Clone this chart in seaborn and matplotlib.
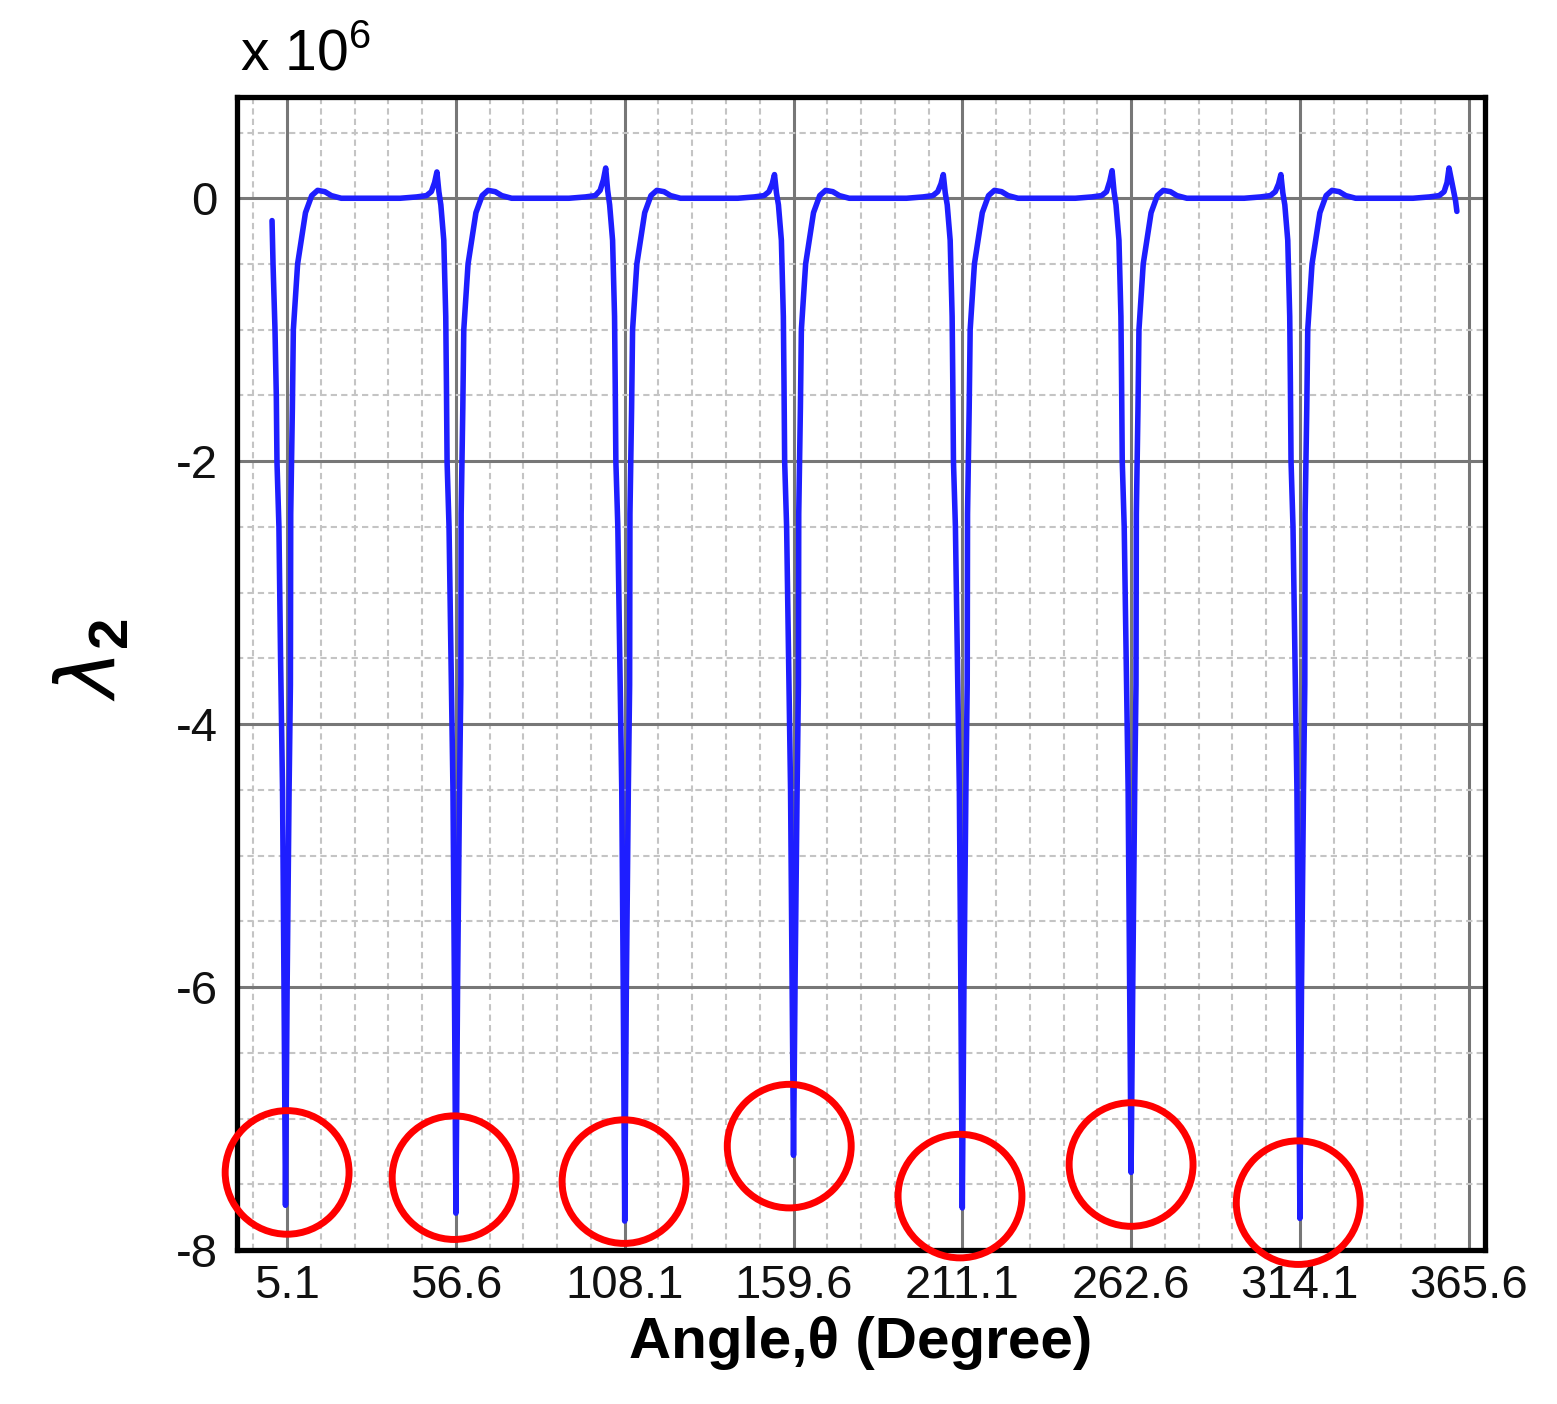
import pandas as pd
import seaborn as sns
import matplotlib.pyplot as plt
from matplotlib.patches import Ellipse
from matplotlib.ticker import FixedLocator, MultipleLocator

# lambda_2 (x 10^6) against angle
angle = [
    0.5, 0.8, 1.4, 1.8, 2.0, 2.6, 3.1, 3.7, 4.15, 4.6,
    5.1, 5.7, 6.1, 6.2, 6.7, 7.0, 8.3, 10.7, 12.6, 14.4, 16.6, 18.6, 21.6,
    39.6, 44.6, 47.6, 49.1, 50.1, 50.8, 51.4, 52.0, 52.9, 53.5, 53.7, 53.9, 54.5, 55.1, 55.7, 56.15, 56.6,
    57.1, 57.7, 58.1, 58.2, 58.7, 59.0, 60.3, 62.7, 64.6, 66.4, 68.6, 70.6, 73.6,
    91.1, 96.1, 99.1, 100.6, 101.6, 102.3, 102.9, 103.5, 104.4, 105.0, 105.2, 105.4, 106.0, 106.6, 107.2, 107.65, 108.1,
    108.6, 109.2, 109.6, 109.7, 110.2, 110.5, 111.8, 114.2, 116.1, 117.9, 120.1, 122.1, 125.1,
    142.6, 147.6, 150.6, 152.1, 153.1, 153.8, 154.4, 155.0, 155.9, 156.5, 156.7, 156.9, 157.5, 158.1, 158.7, 159.15, 159.6,
    160.1, 160.7, 161.1, 161.2, 161.7, 162.0, 163.3, 165.7, 167.6, 169.4, 171.6, 173.6, 176.6,
    194.1, 199.1, 202.1, 203.6, 204.6, 205.3, 205.9, 206.5, 207.4, 208.0, 208.2, 208.4, 209.0, 209.6, 210.2, 210.65, 211.1,
    211.6, 212.2, 212.6, 212.7, 213.2, 213.5, 214.8, 217.2, 219.1, 220.9, 223.1, 225.1, 228.1,
    245.6, 250.6, 253.6, 255.1, 256.1, 256.8, 257.4, 258.0, 258.9, 259.5, 259.7, 259.9, 260.5, 261.1, 261.7, 262.15, 262.6,
    263.1, 263.7, 264.1, 264.2, 264.7, 265.0, 266.3, 268.7, 270.6, 272.4, 274.6, 276.6, 279.6,
    297.1, 302.1, 305.1, 306.6, 307.6, 308.3, 308.9, 309.5, 310.4, 311.0, 311.2, 311.4, 312.0, 312.6, 313.2, 313.65, 314.1,
    314.6, 315.2, 315.6, 315.7, 316.2, 316.5, 317.8, 320.2, 322.1, 323.9, 326.1, 328.1, 331.1,
    348.6, 353.6, 356.6, 358.1, 359.0, 359.6, 360.8, 361.6, 362.0,
]
lambda2 = [
    -0.17, -0.5, -1.0, -1.5, -2.0, -2.5, -3.5, -4.5, -6.0, -7.66,
    -6.0, -4.5, -3.7, -2.4, -1.6, -1.0, -0.5, -0.11, 0.02, 0.06, 0.05, 0.02, 0.0,
    0.0, 0.01, 0.02, 0.05, 0.12, 0.20, 0.05, -0.05, -0.32, -0.9, -1.4, -2.0, -2.5, -3.5, -4.5, -6.0, -7.72,
    -6.0, -4.5, -3.7, -2.4, -1.6, -1.0, -0.5, -0.11, 0.02, 0.06, 0.05, 0.02, 0.0,
    0.0, 0.01, 0.02, 0.06, 0.14, 0.23, 0.06, -0.05, -0.32, -0.9, -1.4, -2.0, -2.5, -3.5, -4.5, -6.0, -7.78,
    -6.0, -4.5, -3.7, -2.4, -1.6, -1.0, -0.5, -0.11, 0.02, 0.06, 0.05, 0.02, 0.0,
    0.0, 0.01, 0.02, 0.05, 0.11, 0.18, 0.04, -0.05, -0.32, -0.9, -1.4, -2.0, -2.5, -3.5, -4.5, -5.9, -7.28,
    -5.9, -4.5, -3.7, -2.4, -1.6, -1.0, -0.5, -0.11, 0.02, 0.06, 0.05, 0.02, 0.0,
    0.0, 0.01, 0.02, 0.05, 0.11, 0.18, 0.04, -0.05, -0.32, -0.9, -1.4, -2.0, -2.5, -3.5, -4.5, -6.0, -7.68,
    -6.0, -4.5, -3.7, -2.4, -1.6, -1.0, -0.5, -0.11, 0.02, 0.06, 0.05, 0.02, 0.0,
    0.0, 0.01, 0.02, 0.05, 0.13, 0.21, 0.05, -0.05, -0.32, -0.9, -1.4, -2.0, -2.5, -3.5, -4.5, -6.0, -7.41,
    -6.0, -4.5, -3.7, -2.4, -1.6, -1.0, -0.5, -0.11, 0.02, 0.06, 0.05, 0.02, 0.0,
    0.0, 0.01, 0.02, 0.05, 0.11, 0.18, 0.04, -0.05, -0.32, -0.9, -1.4, -2.0, -2.5, -3.5, -4.5, -6.0, -7.76,
    -6.0, -4.5, -3.7, -2.4, -1.6, -1.0, -0.5, -0.11, 0.02, 0.06, 0.05, 0.02, 0.0,
    0.0, 0.01, 0.02, 0.05, 0.12, 0.23, 0.08, -0.02, -0.10,
]

# tick labels on the angle axis
x_ticks = [5.1, 56.6, 108.1, 159.6, 211.1, 262.6, 314.1, 365.6]
x_tick_labels = ["5.1", "56.6", "108.1", "159.6", "211.1", "262.6", "314.1", "365.6"]
y_ticks = [-8, -6, -4, -2, 0]

# red circles marking the minima
circle_x = [5.1, 56.05, 107.9, 158.3, 210.4, 262.6, 313.6]
circle_y = [-7.41, -7.45, -7.48, -7.21, -7.59, -7.35, -7.64]

df = pd.DataFrame({"angle": angle, "lambda2": lambda2})

sns.set_style("white")
plt.rcParams["font.family"] = ["Liberation Sans", "DejaVu Sans"]
plt.rcParams["mathtext.fontset"] = "custom"
plt.rcParams["mathtext.rm"] = "Liberation Sans"
plt.rcParams["mathtext.bf"] = "Liberation Sans:bold"
plt.rcParams["axes.unicode_minus"] = False
plt.rcParams["text.color"] = "black"
plt.rcParams["axes.labelcolor"] = "black"

fig = plt.figure(figsize=(15.57, 14.04), dpi=100)
ax = fig.add_axes([0.1522, 0.1097, 0.8016, 0.8212])

sns.lineplot(data=df, x="angle", y="lambda2", estimator=None, sort=False,
             color="#1e1eff", linewidth=4.0, ax=ax, zorder=3)

ax.set_xlim(-10.2, 370.6)
ax.set_ylim(-8, 0.77)

ax.xaxis.set_major_locator(FixedLocator(x_ticks))
ax.set_xticklabels(x_tick_labels)
ax.xaxis.set_minor_locator(FixedLocator([-5.2 + 10.3 * i for i in range(37)]))
ax.yaxis.set_major_locator(FixedLocator(y_ticks))
ax.yaxis.set_minor_locator(MultipleLocator(0.5))

ax.grid(which="major", color="#777777", linewidth=2.2, linestyle="-")
ax.grid(which="minor", color="#c4c4c4", linewidth=1.5, linestyle=(0, (3, 2)))
ax.set_axisbelow(True)

ax.tick_params(which="major", direction="in", length=18, width=3.2, colors="black",
               labelsize=34, pad=10, top=False, right=False, labelcolor="#111111")
ax.tick_params(which="minor", direction="in", length=9, width=2, colors="black",
               top=False, right=False)
ax.tick_params(axis="y", which="major", labelsize=34, pad=14)

for sp in ax.spines.values():
    sp.set_visible(True)
    sp.set_linewidth(3.8)
    sp.set_color("black")

for cx, cy in zip(circle_x, circle_y):
    ax.add_patch(Ellipse((cx, cy), width=37.8, height=0.94, fill=False,
                         edgecolor="#ff0000", linewidth=5.0, clip_on=False, zorder=5))

ax.set_xlabel("Angle,θ (Degree)", fontsize=42, fontweight="bold", labelpad=6)
ax.set_ylabel("")
fig.text(0.060, 0.53, r"$\lambda_{\mathbf{2}}$", fontsize=58, rotation=90,
         ha="center", va="center", family=["DejaVu Sans"])
fig.text(0.154, 0.950, r"x 10$^{\mathregular{6}}$", fontsize=41, ha="left", va="baseline")

fig.savefig("out.png", dpi=100)
